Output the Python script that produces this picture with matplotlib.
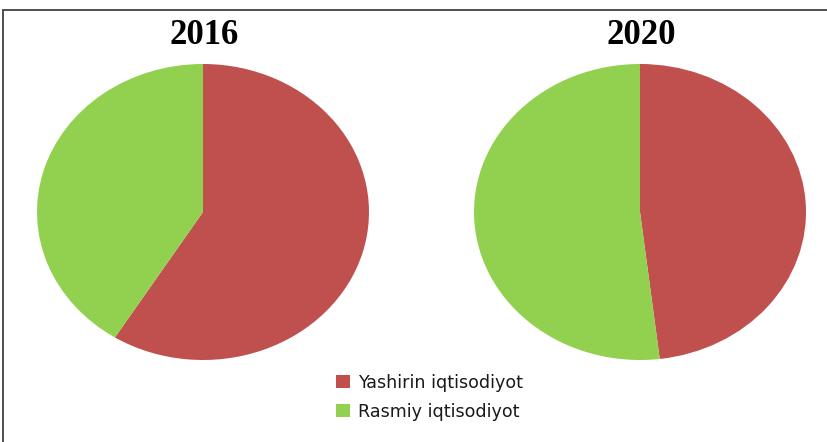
import matplotlib.pyplot as plt
from matplotlib.patches import Patch, Rectangle

# Ulushlar (%)
years = ['2016', '2020']
yashirin = [58.9, 48.1]
rasmiy = [41.1, 51.9]
labels = ['Yashirin iqtisodiyot', 'Rasmiy iqtisodiyot']
colors = ['#C0504D', '#92D050']

W, H = 828, 442
fig = plt.figure(figsize=(W / 100, H / 100), dpi=100)

# ramka
fig.patches.append(Rectangle((3 / W, -0.01), 1.0, 1 - 10 / H + 0.01, transform=fig.transFigure,
                             fill=False, edgecolor='#404040', linewidth=1.3))

# har bir doira uchun o'qlar (piksel koordinatalarida)
boxes = [(37, 64, 332, 296), (474, 64, 332, 296)]
for (x0, y0, w, h), year, a, b in zip(boxes, years, yashirin, rasmiy):
    ax = fig.add_axes([x0 / W, 1 - (y0 + h) / H, w / W, h / H])
    ax.pie([a, b], colors=colors, startangle=90, counterclock=False, radius=1,
           wedgeprops={'linewidth': 0})
    ax.set_aspect('auto')
    ax.set_xlim(-1, 1)
    ax.set_ylim(-1, 1)
    ax.axis('off')
    fig.text((x0 + w / 2 + 1) / W, 1 - 36 / H, year, ha='center', va='center',
             fontsize=25, fontweight='bold', family='Liberation Serif')

handles = [Patch(facecolor=c, edgecolor='none') for c in colors]
fig.legend(handles, labels, loc='upper left', bbox_to_anchor=(320 / W, 1 - 358 / H),
           frameon=False, fontsize=12.6, handlelength=0.8, handleheight=0.8,
           handletextpad=0.45, labelspacing=0.62, labelcolor='#1a1a1a')

fig.savefig('out.png', dpi=100)
